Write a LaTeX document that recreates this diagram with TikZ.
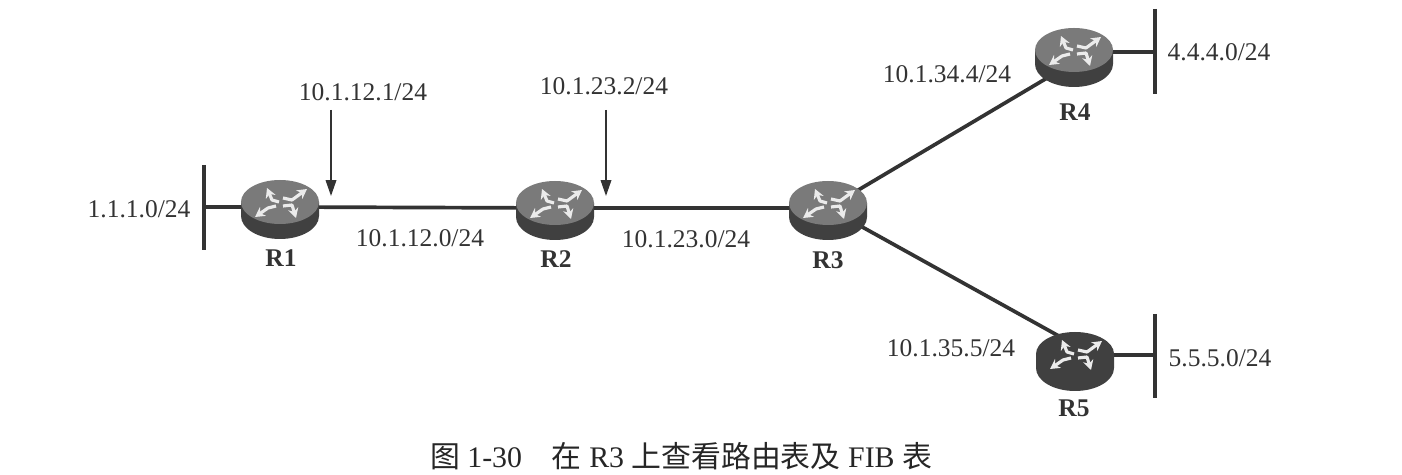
\documentclass[tikz,border=0pt]{standalone}
\usepackage{fontspec}
\setmainfont{Liberation Serif}
\newfontfamily\cjk{Noto Sans CJK SC}
\usetikzlibrary{shapes.geometric,arrows.meta}
\definecolor{inkdark}{gray}{0.2}
\definecolor{routertop}{gray}{0.48}
\definecolor{routerdark}{gray}{0.25}
\tikzset{
  linedecorate/.style={-,line width=2.1pt,color=inkdark},
  bardecorate/.style={-,line width=2.5pt,color=inkdark},
  pointdecorate/.style={-{Triangle[length=9pt,width=6pt]},line width=0.9pt,color=inkdark},
  routerdecorate/.style={shape=ellipse,minimum width=44pt,minimum height=32pt,inner sep=0pt},
  textdecorate/.style={font=\fontsize{14.5}{18}\selectfont,color=black!80},
  namedecorate/.style={font=\fontsize{14.5}{18}\selectfont\bfseries,color=black!80},
  glyphdecorate/.style={-{Stealth[length=5.5pt,width=6pt]},line width=1.8pt,color=white!92!black,line join=round},
  routerpic/.pic={
    \fill[routerdark] (-39,-5) -- (-39,9) arc[x radius=39,y radius=23,start angle=180,end angle=0] -- (39,-5) -- cycle;
    \fill[#1] (0,-5) ellipse[x radius=39,y radius=22];
    \draw[glyphdecorate] (-1,-5) -- (-8,-7) -- (-13,-19);
    \draw[glyphdecorate] (3,-9) -- (12,-7) -- (27,-18);
    \draw[glyphdecorate] (-4,-1) -- (-12,1) -- (-25,10);
    \draw[glyphdecorate] (3,-1) -- (12,-2) -- (16,11);
  }
}
\begin{document}
\begin{tikzpicture}[x=0.02cm,y=-0.02cm]
\useasboundingbox (0,0) rectangle (1402,475);
%% routers
\foreach \nodename/\x/\y in {R1/280/207, R2/555/208, R3/828/208, R4/1074/55, R5/1075/359}
{
  \node (\nodename) at (\x,\y) [routerdecorate] {};
}
%% ends of the segments, of the pointers and of the lines under the routers
\foreach \nodename/\x/\y in {lt/204/165, lb/204/250, lm/204/207, ut/1155/9, ub/1155/94,
  um/1155/52, dt/1155/314, db/1155/398, dm/1155/355, pa/331/110, qa/331/196, pb/606/110, qb/606/196,
  rua/1074/62, rub/1074/52, rda/1075/345, rdb/1075/355}
{
  \coordinate (\nodename) at (\x,\y);
}
%% edges or lines
\foreach \startnode/\endnode in {lm/R1, R1/R2, R2/R3, R3/rua, R3/rda, rub/um, rdb/dm}
{
  \draw[linedecorate] (\startnode.center) -- (\endnode.center);
}
\foreach \startnode/\endnode in {lt/lb, ut/ub, dt/db}
{
  \draw[bardecorate] (\startnode) -- (\endnode);
}
\foreach \startnode/\endnode in {pa/qa, pb/qb}
{
  \draw[pointdecorate] (\startnode) -- (\endnode);
}
\foreach \nodename in {R1, R2, R3, R4}
{
  \pic at (\nodename) {routerpic={routertop}};
}
\pic at (R5) {routerpic={routerdark}};
%% labels
\foreach \nodename/\x/\y in {R1/281/258, R2/556/259, R3/828/260, R4/1075/112, R5/1074/408}
{
  \node (name\nodename) at (\x,\y) [namedecorate] {\nodename};
}
\foreach \nodename/\x/\y/\addr in {a/139/209/1.1.1.0, b/363/92/10.1.12.1, c/604/86/10.1.23.2,
  d/420/238/10.1.12.0, e/686/239/10.1.23.0, f/947/74/10.1.34.4,
  g/951/348/10.1.35.5, h/1219/52/4.4.4.0, i/1220/358/5.5.5.0}
{
  \node (addr\nodename) at (\x,\y) [textdecorate] {\addr/24};
}
\node (caption) at (681,456) [font=\fontsize{17}{20}\selectfont,color=black!85]
  {{\cjk 图} 1-30\quad{\cjk 在} R3 {\cjk 上查看路由表及} FIB {\cjk 表}};
\end{tikzpicture}
\end{document}
